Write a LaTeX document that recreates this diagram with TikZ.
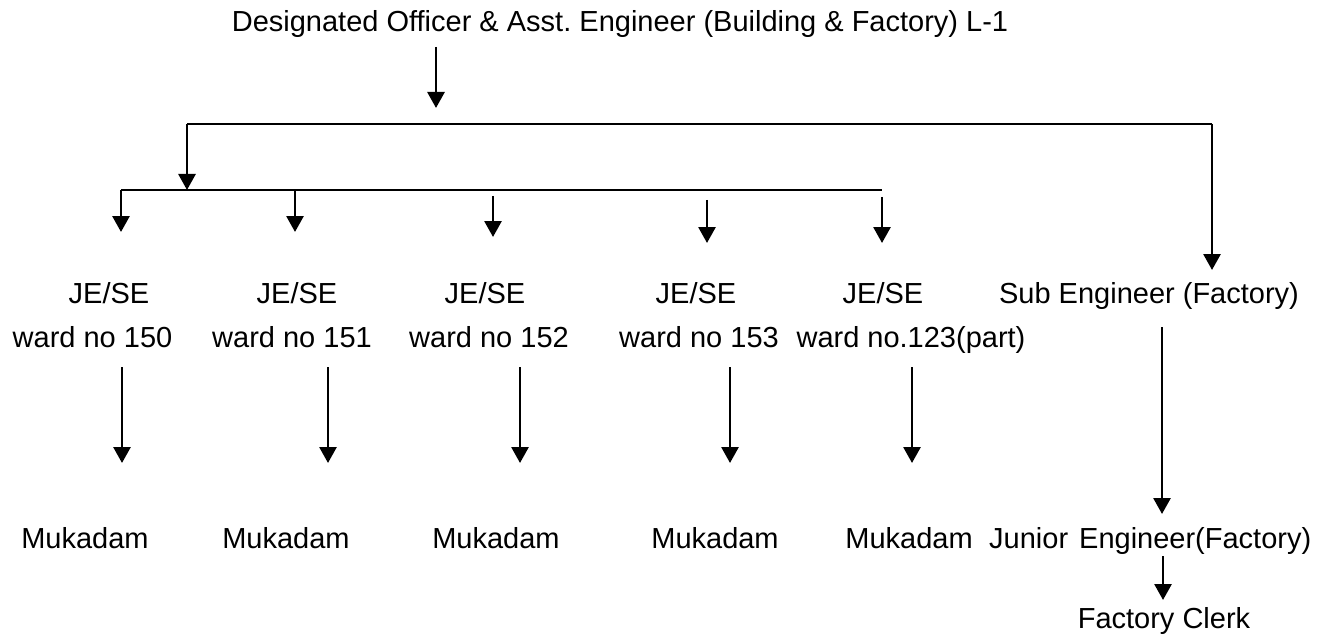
\documentclass[tikz,border=0pt]{standalone}
\usepackage{fontspec}
\setmainfont{Liberation Sans}
\usetikzlibrary{arrows.meta}
\begin{document}
\frenchspacing
\begin{tikzpicture}[x=1pt,y=-1pt,
  lbl/.style={anchor=base,inner sep=0pt,font=\fontsize{29}{34}\selectfont},
  bar/.style={line width=2pt},
  arr/.style={line width=2.8pt,-{Triangle[width=17pt,length=16pt]}}]
\useasboundingbox (0,0) rectangle (1343,639);
% texts
\node[lbl] (top) at (620,32) {Designated Officer \& Asst. Engineer (Building \& Factory) L-1};
\node[lbl] (je1) at (109,303) {JE/SE};
\node[lbl] (je2) at (297,303) {JE/SE};
\node[lbl] (je3) at (485,303) {JE/SE};
\node[lbl] (je4) at (696,303) {JE/SE};
\node[lbl] (je5) at (883,303) {JE/SE};
\node[lbl] (sub) at (1149,303) {Sub Engineer (Factory)};
\node[lbl] (w1) at (92.5,347) {ward no 150};
\node[lbl] (w2) at (292,347) {ward no 151};
\node[lbl] (w3) at (489,347) {ward no 152};
\node[lbl] (w4) at (699,347) {ward no 153};
\node[lbl] (w5) at (911,347) {ward no.123(part)};
\node[lbl] (m1) at (85,548) {Mukadam};
\node[lbl] (m2) at (286,548) {Mukadam};
\node[lbl] (m3) at (496,548) {Mukadam};
\node[lbl] (m4) at (715,548) {Mukadam};
\node[lbl] (m5) at (909,548) {Mukadam};
\node[lbl,anchor=base west] (jr) at (989,548) {Junior\hspace{11pt}Engineer(Factory)};
\node[lbl] (clerk) at (1164,628) {Factory Clerk};
% junction coordinates
\coordinate (t0) at (436,47);
\coordinate (t1) at (436,108);
\coordinate (hL) at (187,124);
\coordinate (hR) at (1212,124);
\coordinate (hRe) at (1212,270);
\coordinate (vL) at (187,190);
\coordinate (gL) at (121,190);
\coordinate (gR) at (882,190);
\coordinate (g2) at (295,190);
\coordinate (b1) at (121,232);
\coordinate (b2) at (295,232);
\coordinate (s3) at (493,196);
\coordinate (b3) at (493,237);
\coordinate (s4) at (707,200);
\coordinate (b4) at (707,243);
\coordinate (s5) at (882,197);
\coordinate (b5) at (882,243);
\foreach \i/\x in {1/122,2/328,3/520,4/730,5/912}{
  \coordinate (u\i) at (\x,367);
  \coordinate (d\i) at (\x,463);
}
\coordinate (ss) at (1162,327);
\coordinate (se) at (1162,514);
\coordinate (cs) at (1163,556);
\coordinate (ce) at (1163,600);
% connectors
\draw[arr] (t0) -- (t1);
\draw[bar] (hL) -- (hR);
\draw[arr] (hR) -- (hRe);
\draw[arr] (hL) -- (vL);
\draw[bar] (gL) -- (gR);
\draw[arr] (gL) -- (b1);
\draw[arr] (g2) -- (b2);
\draw[arr] (s3) -- (b3);
\draw[arr] (s4) -- (b4);
\draw[arr] (s5) -- (b5);
\foreach \i in {1,...,5}{\draw[arr] (u\i) -- (d\i);}
\draw[arr] (ss) -- (se);
\draw[arr] (cs) -- (ce);
\end{tikzpicture}
\end{document}
